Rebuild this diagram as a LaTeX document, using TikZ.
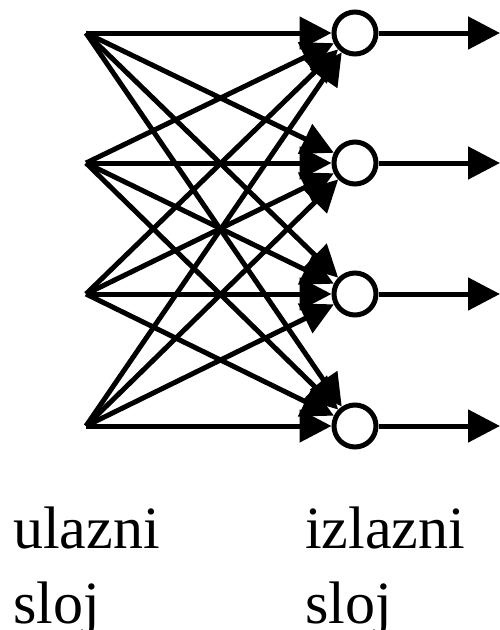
\documentclass[tikz,border=0pt]{standalone}
\usepackage{fontspec}
\setmainfont{Liberation Serif}
\usetikzlibrary{arrows.meta}

\begin{document}
\begin{tikzpicture}[x=1pt,y=-1pt,
    neuron/.style={circle, draw=black, line width=5pt, fill=white, minimum size=42pt, inner sep=0pt},
    synapse/.style={line width=5pt, -{Triangle[length=32pt,width=32pt]}},
    layertext/.style={anchor=base west, inner sep=0pt, font=\fontsize{60}{72}\selectfont}
  ]
  \useasboundingbox (0,0) rectangle (499,630);
  \foreach \i/\y in {1/33,2/163,3/294,4/426} {
    \coordinate (in\i) at (86,\y);
    \node [neuron] (out\i) at (355,\y) {};
    \coordinate (end\i) at (500,\y);
  }
  \foreach \i in {1,...,4}
    \foreach \j in {1,...,4}
      \draw [synapse] (in\i) -- (out\j);
  \foreach \i in {1,...,4}
    \draw [synapse] (out\i) -- (end\i);

  \node [layertext] (inA) at (13,548) {ulazni};
  \node [layertext] (inB) at (13,623) {sloj};
  \node [layertext] (outA) at (305,548) {izlazni};
  \node [layertext] (outB) at (305,623) {sloj};
\end{tikzpicture}
\end{document}
